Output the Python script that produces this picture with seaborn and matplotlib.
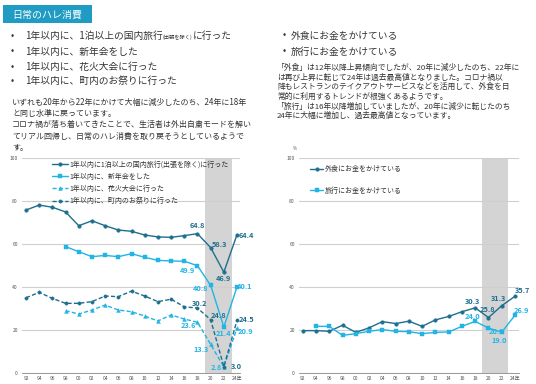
import matplotlib
matplotlib.use("Agg")
import matplotlib.pyplot as plt
from matplotlib.patches import Rectangle
import seaborn as sns

# ---- data ----
years = list(range(1992, 2025, 2))
years_98 = years[3:]
years_94 = years[1:]

travel_domestic = [75.8, 78.1, 77.1, 74.9, 68.5, 70.8, 68.5, 66.5, 65.9,
                   64.2, 63.3, 63.1, 63.9, 64.8, 58.3, 46.9, 64.4]
new_year_party = [58.8, 56.4, 54.1, 54.7, 54.1, 55.5, 53.8, 52.4, 52.1,
                  52.0, 49.9, 40.8, 21.4, 40.1]
fireworks = [29.0, 27.4, 29.3, 31.6, 29.3, 28.5, 26.5, 24.2, 27.0,
             25.1, 23.6, 13.3, 2.8, 20.9]
festival = [35.0, 37.5, 34.7, 32.4, 32.4, 33.2, 35.8, 35.5, 38.1,
            35.8, 33.2, 34.3, 30.8, 30.2, 24.8, 3.0, 24.5]

eating_out = [19.7, 19.7, 19.4, 22.2, 18.9, 21.0, 23.9, 23.0, 24.1,
              21.7, 24.7, 26.3, 28.5, 30.3, 25.8, 31.3, 35.7]
travel_spend = [21.7, 21.7, 17.5, 18.3, 19.4, 20.2, 19.4, 19.2, 18.3,
                18.9, 19.1, 21.7, 24.0, 20.9, 19.0, 26.9]

left_labels = ["1年以内に1泊以上の国内旅行(出張を除く)に行った",
               "1年以内に、新年会をした",
               "1年以内に、花火大会に行った",
               "1年以内に、町内のお祭りに行った"]
right_labels = ["外食にお金をかけている", "旅行にお金をかけている"]
xtick_labels = [f"{y % 100:02d}" for y in years[:-1]] + ["24年"]

# ---- style ----
sns.set_style("white")
plt.rcParams['font.family'] = ['Noto Sans CJK JP', 'DejaVu Sans']

DARK = "#1d6f8f"
LIGHT = "#22b4e4"
TXT = "#333333"
W, H = 536, 384

fig = plt.figure(figsize=(W / 100, H / 100), dpi=100)


def fx(px):
    return px / W


def fy(py):
    return 1 - py / H


# header box
fig.add_artist(Rectangle((fx(3), fy(23.3)), fx(88.7), 18.3 / H,
                         transform=fig.transFigure, color="#1f9bc4", lw=0))
fig.text(fx(12), fy(14.3), "日常のハレ消費", color="white", fontsize=7.2, va="center")

ax1 = fig.add_axes([fx(22), fy(373), fx(218), 215 / H])
ax2 = fig.add_axes([fx(299), fy(373), fx(220), 215 / H])


def series(ax, x, y, color, marker, ls, label, ms):
    sns.lineplot(x=x, y=y, ax=ax, color=color, marker=marker, markersize=ms,
                 linestyle=ls, linewidth=1.0, label=label,
                 markeredgecolor=color, markeredgewidth=0.3)


dash = (0, (3, 1.6))
series(ax1, years, travel_domestic, DARK, "o", "-", left_labels[0], 2.6)
series(ax1, years_98, new_year_party, LIGHT, "s", "-", left_labels[1], 2.6)
series(ax1, years_98, fireworks, LIGHT, "^", dash, left_labels[2], 2.8)
series(ax1, years, festival, DARK, "o", dash, left_labels[3], 2.4)

series(ax2, years, eating_out, DARK, "o", "-", right_labels[0], 2.6)
series(ax2, years_94, travel_spend, LIGHT, "s", "-", right_labels[1], 2.6)

# value labels for the last four points (pixel offsets)
left_offsets = [
    (years, travel_domestic, DARK, [(0, 8), (9, 3), (0, -6), (9, -1)]),
    (years_98, new_year_party, LIGHT, [(-10, -5), (-10, -3), (0, -7), (8, 0)]),
    (years_98, fireworks, LIGHT, [(-9, -3), (-10, -5), (-8, -1), (8, -3)]),
    (years, festival, DARK, [(2, 5), (8, 4), (12, 0), (9, 1)]),
]
right_offsets = [
    (years, eating_out, DARK, [(-3, 6), (-1, 8), (-3, 7), (7, 6)]),
    (years_94, travel_spend, LIGHT, [(-3, 5), (8, -3), (-3, -8), (6, 5)]),
]
for ax, groups in ((ax1, left_offsets), (ax2, right_offsets)):
    for xs, ys, col, offs in groups:
        for x, y, off in zip(xs[-4:], ys[-4:], offs):
            ax.annotate(f"{y:.1f}", xy=(x, y), xytext=off, textcoords="offset pixels",
                        ha="center", va="center", fontsize=5.3, fontweight="bold",
                        color=col, annotation_clip=False)

for ax, band, xlim in ((ax1, (2019.2, 2023.2), (1991.39, 2024.45)),
                       (ax2, (2019.0, 2022.9), (1991.44, 2024.6))):
    ax.axvspan(*band, color="#d4d4d4", lw=0, zorder=0.1)
    ax.set_xlim(*xlim)
    ax.set_ylim(0, 100)
    ax.set_axisbelow(True)
    ax.yaxis.grid(True, color="#cfcfcf", lw=0.8)
    ax.xaxis.grid(False)
    ax.set_yticks(range(0, 101, 20))
    ax.set_yticklabels([str(v) for v in range(0, 101, 20)])
    ax.set_xticks(years)
    ax.set_xticklabels(xtick_labels)
    ax.tick_params(axis="y", length=0, pad=3, labelsize=3.6, labelcolor="#555555")
    ax.tick_params(axis="x", length=1.6, width=0.5, color="#888888", pad=0.8,
                   labelsize=3.6, labelcolor="#555555", direction="out")
    for s in ("top", "right", "left"):
        ax.spines[s].set_visible(False)
    ax.spines["bottom"].set_color("#888888")
    ax.spines["bottom"].set_linewidth(0.6)
    ax.set_xlabel("")
    ax.set_ylabel("")

ax1.legend(loc="upper left", bbox_to_anchor=(fx(51.7), fy(160.5)),
           bbox_transform=fig.transFigure, frameon=False, fontsize=5.0,
           borderpad=0, borderaxespad=0, handlelength=2.3, handletextpad=0.3,
           labelspacing=0.6, labelcolor=TXT)
ax2.legend(loc="upper left", bbox_to_anchor=(fx(310), fy(165.5)),
           bbox_transform=fig.transFigure, frameon=False, fontsize=5,
           borderpad=0, borderaxespad=0, handlelength=1.9, handletextpad=0.2,
           labelspacing=1.9, labelcolor=TXT)

fig.text(fx(17), fy(150.5), "%", fontsize=3.2, ha="center", va="bottom", color="#555555")
fig.text(fx(295), fy(151), "%", fontsize=3.2, ha="center", va="bottom", color="#555555")

# bullet lists
for i, y in enumerate([36, 51.5, 66.5, 81]):
    fig.text(fx(11), fy(y), "•", fontsize=7, va="center", color=TXT)
t1 = fig.text(fx(25), fy(36), "1年以内に、1泊以上の国内旅行", fontsize=7, va="center", color=TXT)
t2 = ax1.annotate("(出張を除く)", xy=(1, 0), xycoords=t1, xytext=(0, 1.5),
                  textcoords="offset pixels", va="bottom", ha="left", fontsize=3.8,
                  color=TXT, annotation_clip=False)
ax1.annotate("に行った", xy=(1, 0), xycoords=(t2, t1), va="bottom", ha="left",
             fontsize=7, color=TXT, annotation_clip=False)
for y, s in zip([51.5, 66.5, 81], left_labels[1:]):
    fig.text(fx(25), fy(y), s, fontsize=7, va="center", color=TXT)

for y, s in zip([35.5, 51.5], right_labels):
    fig.text(fx(283), fy(y), "•", fontsize=7, va="center", color=TXT)
    fig.text(fx(291), fy(y), s, fontsize=7, va="center", color=TXT)

left_para = ["いずれも20年から22年にかけて大幅に減少したのち、24年に18年",
             "と同じ水準に戻っています。",
             "コロナ禍が落ち着いてきたことで、生活者は外出自粛モードを解い",
             "てリアル回帰し、日常のハレ消費を取り戻そうとしているようで",
             "す。"]
for i, s in enumerate(left_para):
    fig.text(fx(12), fy(102.5 + 11.2 * i), s, fontsize=5.75, va="center", color=TXT)

right_para = ["「外食」は12年以降上昇傾向でしたが、20年に減少したのち、22年に",
              "は再び上昇に転じて24年は過去最高値となりました。コロナ禍以",
              "降もレストランのテイクアウトサービスなどを活用して、外食を日",
              "常的に利用するトレンドが根強くあるようです。",
              "「旅行」は16年以降増加していましたが、20年に減少に転じたのち",
              "24年に大幅に増加し、過去最高値となっています。"]
for i, s in enumerate(right_para):
    fig.text(fx(277), fy(68 + 9.6 * i), s, fontsize=5.6, va="center", color=TXT)

fig.savefig("out.png", dpi=100)
